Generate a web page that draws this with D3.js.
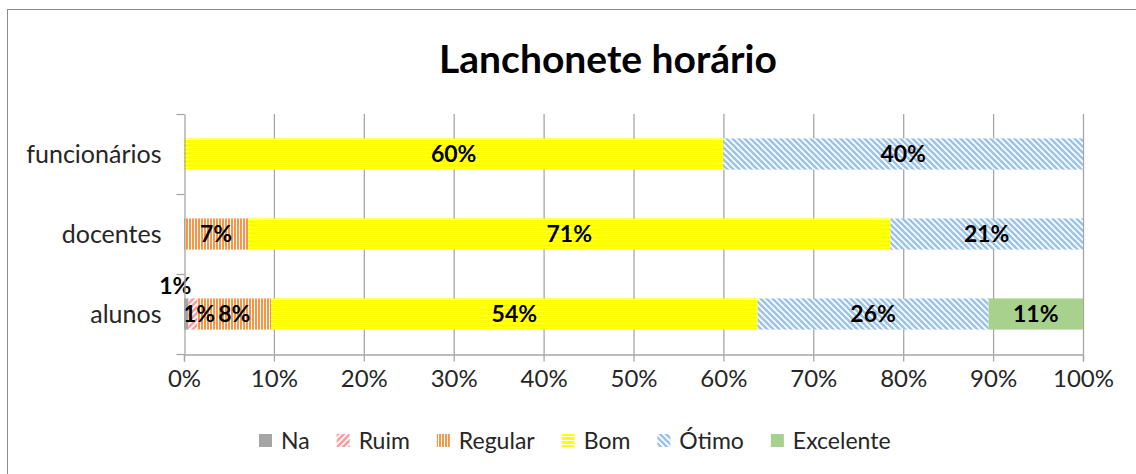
<!DOCTYPE html>
<html>
<head>
<meta charset="utf-8">
<script src="https://cdn.jsdelivr.net/npm/d3@7"></script>
<style>
  body { margin: 0; background: #fff; }
  text { font-family: Lato, 'Open Sans', sans-serif; }
</style>
</head>
<body>
<div id="chart"></div>
<script>
// data (percent of each group)
var categories = ["funcionários", "docentes", "alunos"];
var seriesNames = ["Na", "Ruim", "Regular", "Bom", "Ótimo", "Excelente"];
var na = [0, 0, 0.5];
var ruim = [0, 0, 1.0];
var regular = [0, 7.14, 8.2];
var bom = [60, 71.43, 54.1];
var otimo = [40, 21.43, 25.7];
var excelente = [0, 0, 10.5];
var xTicks = [0, 10, 20, 30, 40, 50, 60, 70, 80, 90, 100];

var width = 1136,
  height = 474;
var margin = { left: 184, right: 53, top: 114, bottom: 120 };

var svg = d3.select("#chart")
  .append("svg")
  .attr("width", width)
  .attr("height", height);

var defs = svg.append("defs");

// fill patterns, same as the excel ones
function stripes(id, w, h, bg, draw) {
  var p = defs.append("pattern")
    .attr("id", id)
    .attr("patternUnits", "userSpaceOnUse")
    .attr("width", w)
    .attr("height", h);
  p.append("rect").attr("width", w).attr("height", h).attr("fill", bg);
  draw(p);
}
stripes("pRuim", 6, 6, "#fff", function(p) {
  p.append("path").attr("d", "M-1,7 L7,-1 M-4,4 L4,-4 M2,10 L10,2")
    .attr("stroke", "#ff9b9b").attr("stroke-width", 2.6);
});
stripes("pRegular", 3, 4, "#fff", function(p) {
  p.append("rect").attr("x", 0).attr("width", 2).attr("height", 4).attr("fill", "#f79646");
});
stripes("pBom", 4, 4, "#fff", function(p) {
  p.append("rect").attr("y", 0).attr("width", 4).attr("height", 3).attr("fill", "#ffff00");
});
stripes("pOtimo", 6, 6, "#fff", function(p) {
  p.append("path").attr("d", "M-1,-1 L7,7 M-4,2 L2,8 M4,-2 L10,4")
    .attr("stroke", "#9dc3e6").attr("stroke-width", 2.6);
});

var fills = {
  "Na": "#a5a5a5",
  "Ruim": "url(#pRuim)",
  "Regular": "url(#pRegular)",
  "Bom": "url(#pBom)",
  "Ótimo": "url(#pOtimo)",
  "Excelente": "#a9d18e"
};

// chart frame (right / bottom edges are cut off in the original)
svg.append("rect")
  .attr("x", 7.5).attr("y", 9.5)
  .attr("width", 1150).attr("height", 490)
  .attr("fill", "none")
  .attr("stroke", "#8c8c8c")
  .attr("stroke-width", 1);

svg.append("text")
  .attr("x", 608).attr("y", 73)
  .attr("text-anchor", "middle")
  .attr("font-size", "39px")
  .attr("font-weight", "bold")
  .attr("fill", "#000")
  .text("Lanchonete horário");

var rows = categories.map(function(c, i) {
  return {
    cat: c,
    "Na": na[i], "Ruim": ruim[i], "Regular": regular[i],
    "Bom": bom[i], "Ótimo": otimo[i], "Excelente": excelente[i]
  };
});

var x = d3.scaleLinear()
  .domain([0, 100])
  .range([margin.left, width - margin.right]);

var y = d3.scaleBand()
  .domain(categories)
  .range([margin.top, height - margin.bottom]);

var barH = y.bandwidth() * 0.39;

// vertical grid
svg.append("g")
  .selectAll("line")
  .data(xTicks.slice(1))
  .enter()
  .append("line")
  .attr("x1", function(d) { return x(d) + 0.5; })
  .attr("x2", function(d) { return x(d) + 0.5; })
  .attr("y1", margin.top)
  .attr("y2", height - margin.bottom)
  .attr("stroke", "#a6a6a6")
  .attr("stroke-width", 1.3);

var stack = d3.stack().keys(seriesNames)(rows);

var layer = svg.append("g")
  .selectAll("g")
  .data(stack)
  .enter()
  .append("g")
  .attr("fill", function(d) { return fills[d.key]; });

layer.selectAll("rect")
  .data(function(d) { return d; })
  .enter()
  .append("rect")
  .attr("x", function(d) { return x(d[0]); })
  .attr("y", function(d) { return y(d.data.cat) + (y.bandwidth() - barH) / 2; })
  .attr("width", function(d) { return x(d[1]) - x(d[0]); })
  .attr("height", barH);

// data labels, on top of all bars. the tiny Na / Ruim ones are pushed aside like in excel
var labels = svg.append("g");
stack.forEach(function(s) {
  labels.selectAll("text.lbl" + s.index)
    .data(s.filter(function(d) { return d[1] - d[0] > 0; }))
    .enter()
    .append("text")
    .attr("class", "lbl" + s.index)
    .attr("x", function(d) {
      var cx = (x(d[0]) + x(d[1])) / 2;
      if (s.key === "Na") return cx - 11;
      if (s.key === "Ruim") return cx + 6;
      return cx;
    })
    .attr("y", function(d) { return y(d.data.cat) + y.bandwidth() / 2 + 8 - (s.key === "Na" ? 28 : 0); })
    .attr("text-anchor", "middle")
    .attr("font-size", "23px")
    .attr("font-weight", "bold")
    .attr("fill", "#000")
    .text(function(d) { return Math.round(d[1] - d[0]) + "%"; });
});

// x axis
var xAxis = svg.append("g")
  .attr("transform", "translate(0," + (height - margin.bottom + 0.5) + ")")
  .call(d3.axisBottom(x)
    .tickValues(xTicks)
    .tickSize(7)
    .tickPadding(8)
    .tickFormat(function(d) { return d + "%"; }));
xAxis.select(".domain").attr("stroke", "#a6a6a6").attr("stroke-width", 1.3);
xAxis.selectAll(".tick line").attr("stroke", "#a6a6a6").attr("stroke-width", 1.3);
xAxis.selectAll("text")
  .attr("font-family", "Lato, sans-serif")
  .attr("font-size", "24px")
  .attr("fill", "#262626");

// y axis: line + ticks on band edges, labels in the middle
var yAxis = svg.append("g")
  .attr("transform", "translate(" + (margin.left + 0.5) + ",0)")
  .call(d3.axisLeft(y).tickSize(0).tickPadding(23));
yAxis.select(".domain").attr("stroke", "#a6a6a6").attr("stroke-width", 1.3);
yAxis.selectAll("text")
  .attr("font-family", "Lato, sans-serif")
  .attr("font-size", "25px")
  .attr("fill", "#262626")
  .attr("dy", "0.35em");

yAxis.selectAll("line.edge")
  .data(categories.map(function(c) { return y(c); }).concat([y.range()[1]]))
  .enter()
  .append("line")
  .attr("class", "edge")
  .attr("x1", -8).attr("x2", 0)
  .attr("y1", function(d) { return d + 0.5; })
  .attr("y2", function(d) { return d + 0.5; })
  .attr("stroke", "#a6a6a6")
  .attr("stroke-width", 1.3);

// legend
var legend = svg.append("g").attr("transform", "translate(259,441)");
var lx = 0;
seriesNames.forEach(function(name) {
  legend.append("rect")
    .attr("x", lx).attr("y", -7)
    .attr("width", 13).attr("height", 13)
    .attr("fill", fills[name]);
  var t = legend.append("text")
    .attr("x", lx + 22).attr("y", 8)
    .attr("font-size", "23px")
    .attr("fill", "#262626")
    .text(name);
  lx += 22 + t.node().getComputedTextLength() + 27;
});
</script>
</body>
</html>
